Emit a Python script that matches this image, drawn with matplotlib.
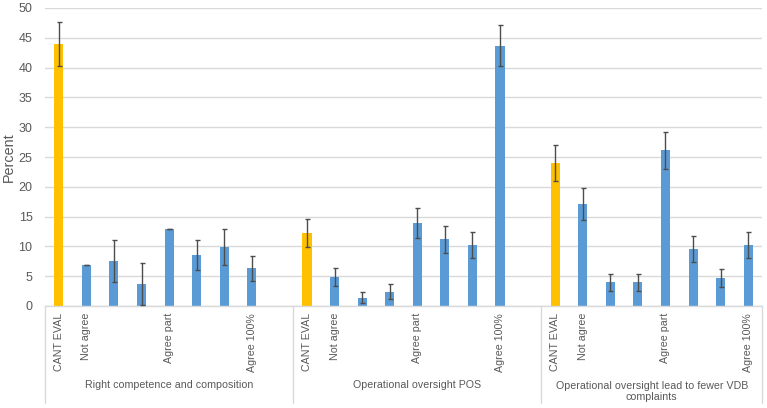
import matplotlib
matplotlib.use("Agg")
import matplotlib.pyplot as plt
import numpy as np

plt.rcParams["font.family"] = ["Liberation Sans", "DejaVu Sans"]

# answer levels (only some are labelled on the axis)
categories = ["CANT EVAL", "Not agree", "", "", "Agree part", "", "", "Agree 100%"]
groups = [
    "Right competence and composition",
    "Operational oversight POS",
    "Operational oversight lead to fewer VDB\ncomplaints",
]

right_comp = [44.0, 6.9, 7.5, 3.7, 12.95, 8.5, 9.9, 6.3]
right_comp_err = [3.65, 0.05, 3.5, 3.45, 0.05, 2.5, 3.0, 2.1]

oversight_pos = [12.2, 4.9, 1.4, 2.4, 13.9, 11.2, 10.3, 43.7]
oversight_pos_err = [2.35, 1.55, 0.95, 1.25, 2.5, 2.3, 2.2, 3.5]

fewer_vdb = [24.0, 17.1, 4.0, 4.0, 26.1, 9.5, 4.7, 10.2]
fewer_vdb_err = [3.05, 2.65, 1.45, 1.45, 3.15, 2.2, 1.55, 2.2]

series = [right_comp, oversight_pos, fewer_vdb]
errors = [right_comp_err, oversight_pos_err, fewer_vdb_err]

YELLOW = "#FFC000"
BLUE = "#5B9BD5"
GRID = "#D9D9D9"
TEXT = "#595959"

fig = plt.figure(figsize=(7.67, 4.08), dpi=100)
ax = fig.add_axes([45 / 767, 102 / 408, 717 / 767, 298 / 408])

slot = len(categories) + 1  # one empty slot between groups
ticks, ticklabels = [], []
for g, (vals, errs) in enumerate(zip(series, errors)):
    x = g * slot + np.arange(len(vals))
    colors = [YELLOW] + [BLUE] * (len(vals) - 1)
    ax.bar(x, vals, width=0.33, color=colors, zorder=2)
    ax.errorbar(x, vals, yerr=errs, fmt="none", ecolor="#4D4D4D",
                elinewidth=1, capsize=1.8, capthick=1, zorder=3)
    for xi, lab in zip(x, categories):
        if lab:
            ticks.append(xi)
            ticklabels.append(lab)

n_slots = slot * len(groups) - 1
ax.set_xlim(-0.5, n_slots - 0.5)
ax.set_ylim(0, 50)
ax.set_yticks(np.arange(0, 51, 5))
ax.yaxis.grid(True, color=GRID, linewidth=1, zorder=0)
ax.set_axisbelow(True)

ax.set_xticks(ticks)
ax.set_xticklabels(ticklabels, rotation=90, va="top", ha="center")
ax.tick_params(axis="x", length=0, pad=5, labelsize=7.7, labelcolor=TEXT)
ax.tick_params(axis="y", length=0, pad=9, labelsize=9, labelcolor=TEXT)

for s in ["top", "right", "left"]:
    ax.spines[s].set_visible(False)
ax.spines["bottom"].set_color(GRID)
ax.spines["bottom"].set_linewidth(1)

fig.text(8.5 / 767, 1 - 157 / 408, "Percent", rotation=90, ha="center",
         va="center", fontsize=10.4, color=TEXT)

# group boxes below the axis
trans = ax.get_xaxis_transform()
bounds = [g * slot - 0.5 for g in range(len(groups))] + [n_slots - 0.5]
for b in bounds:
    ax.plot([b, b], [0, -0.326], transform=trans, color=GRID,
            linewidth=1, clip_on=False)
for g, name in enumerate(groups):
    center = (bounds[g] + bounds[g + 1]) / 2
    nlines = name.count("\n") + 1
    ypix = 79 + 6.4 * (nlines - 1)
    ax.text(center, -ypix / 298, name, transform=trans, ha="center",
            va="center", fontsize=7.7, color=TEXT, linespacing=1.2)

fig.savefig("out.png", dpi=100)
